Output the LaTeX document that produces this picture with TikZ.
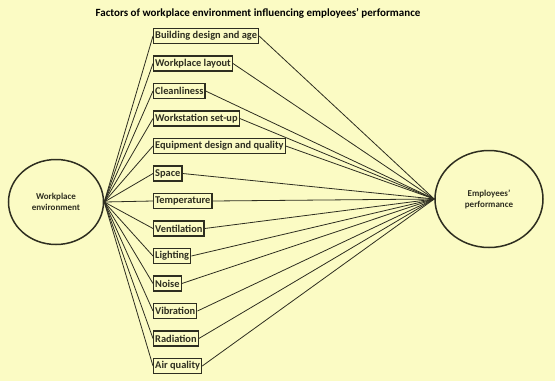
\documentclass[tikz,border=0pt]{standalone}
\usepackage{fontspec}
\setmainfont{Carlito}
\usetikzlibrary{shapes.geometric,positioning}
\definecolor{paper}{HTML}{FBFBC4}
\definecolor{ink}{HTML}{2E2E20}
\begin{document}
\begin{tikzpicture}[x=1pt,y=-1pt,
    factor/.style={draw=ink,line width=1.2pt,fill=paper,anchor=west,inner sep=1.6pt,
      minimum height=15pt,font=\bfseries\fontsize{10.4}{11}\selectfont,text=ink},
    hub/.style={draw=ink,ellipse,line width=1.5pt,align=center,
      font=\bfseries\fontsize{9}{11}\selectfont,text=ink},
    link/.style={draw=ink,line width=0.8pt}]
 \fill[paper] (0,0) rectangle (555,381);
 \node[font=\bfseries\fontsize{11}{12}\selectfont,text=black] (title) at (258,13)
  {Factors of workplace environment influencing employees' performance};
 \node[hub,minimum width=95pt,minimum height=85pt] (env) at (56,202)
  {Workplace\\environment};
 \node[hub,minimum width=108pt,minimum height=97pt] (perf) at (489,199)
  {Employees'\\performance};
 \foreach \i/\t in {1/Building design and age,2/Workplace layout,3/Cleanliness,
   4/Workstation set-up,5/Equipment design and quality,6/Space,7/Temperature,
   8/Ventilation,9/Lighting,10/Noise,11/Vibration,12/Radiation,13/Air quality}
  {\node[factor] (f\i) at (153,{36+27.5*(\i-1)}) {\t};
   \path[link] (env.east) -- (f\i.west) (f\i.east) -- (perf.west);}
\end{tikzpicture}
\end{document}
